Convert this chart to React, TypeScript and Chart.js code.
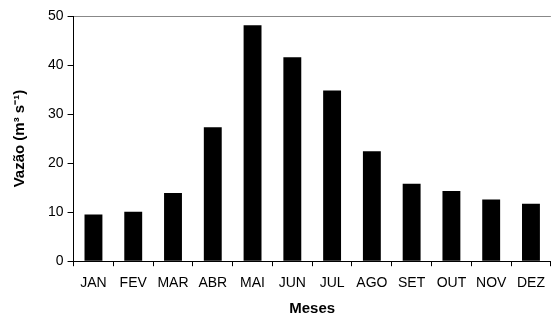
import React, { useEffect, useRef } from "react";
import { Chart, registerables } from "chart.js";

Chart.register(...registerables);

const categories = ["JAN", "FEV", "MAR", "ABR", "MAI", "JUN", "JUL", "AGO", "SET", "OUT", "NOV", "DEZ"];
const vazao = [9.5, 10.1, 13.9, 27.3, 48.1, 41.6, 34.8, 22.4, 15.8, 14.3, 12.6, 11.7];
const yTicksStep = 10;

const FONT = "Liberation Sans, Arial, sans-serif";

export default function App() {
  const ref = useRef<HTMLCanvasElement>(null);
  useEffect(() => {
    document.body.style.margin = "0";
    const chart = new Chart(ref.current!, {
      type: "bar",
      data: {
        labels: categories,
        datasets: [
          {
            data: vazao,
            backgroundColor: "#000",
            borderWidth: 0,
            barPercentage: 0.45,
            categoryPercentage: 1,
          },
        ],
      },
      options: {
        animation: false,
        responsive: false,
        maintainAspectRatio: false,
        layout: { padding: { top: 16, right: 1, left: 10, bottom: -2 } },
        plugins: { legend: { display: false }, tooltip: { enabled: false } },
        scales: {
          x: {
            offset: true,
            grid: {
              display: true,
              drawOnChartArea: false,
              drawTicks: true,
              tickLength: 5,
              tickColor: "#000",
              offset: true,
            },
            border: { color: "#000", width: 1 },
            ticks: {
              color: "#000",
              font: { family: FONT, size: 14 },
              maxRotation: 0,
              autoSkip: false,
              padding: 9,
            },
            title: {
              display: true,
              text: "Meses",
              color: "#000",
              font: { family: FONT, size: 15, weight: "bold", lineHeight: 1 },
              padding: { top: 0, bottom: 0 },
            },
          },
          y: {
            min: 0,
            max: 50,
            grid: {
              display: true,
              drawOnChartArea: true,
              drawTicks: true,
              tickLength: 6,
              tickColor: "#000",
              color: (ctx: any) => (ctx.tick && ctx.tick.value === 50 ? "#888" : "transparent"),
            },
            border: { color: "#000", width: 1 },
            ticks: {
              stepSize: yTicksStep,
              color: "#000",
              font: { family: FONT, size: 14 },
              padding: 4,
            },
            title: {
              display: true,
              text: "Vazão (m³ s⁻¹)",
              color: "#000",
              font: { family: FONT, size: 15, weight: "bold", lineHeight: 1 },
              padding: { top: 2, bottom: 17 },
            },
          },
        },
      },
    });
    return () => chart.destroy();
  }, []);
  return (
    <div style={{ width: 554, height: 314 }}>
      <canvas ref={ref} width={554} height={314} style={{ width: 554, height: 314, display: "block" }} />
    </div>
  );
}
